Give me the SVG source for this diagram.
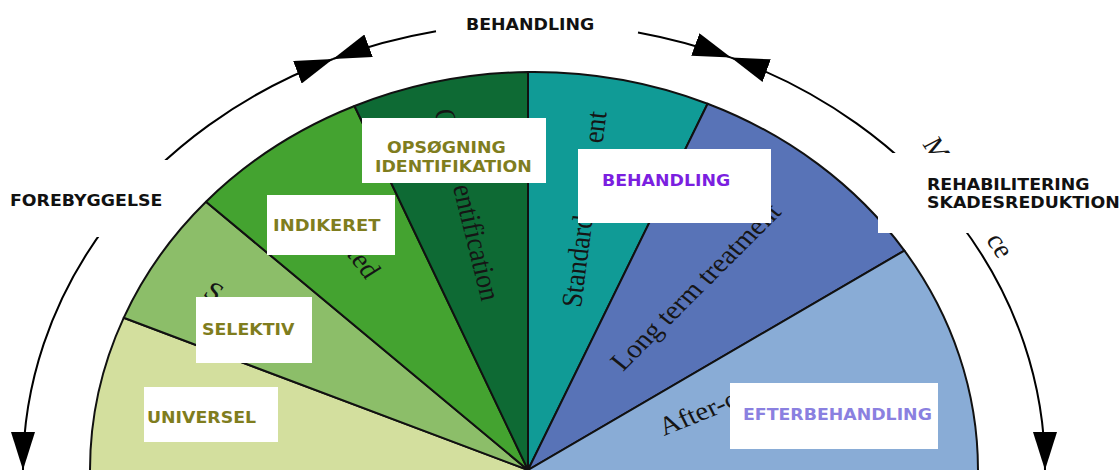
<svg xmlns="http://www.w3.org/2000/svg" width="1120" height="470" viewBox="0 0 1120 470">
<defs>
<style>
.w{stroke:#111;stroke-width:2;stroke-linejoin:round}
.ser{font-family:"Liberation Serif","Times New Roman",serif;font-size:26px;fill:#151515}
.lab{font-family:"DejaVu Sans",Verdana,sans-serif;font-weight:bold;font-size:15.5px}
.ol{fill:#7f7d1e}
.blk{fill:#111}
.box{fill:#fff}
.arc{fill:none;stroke:#000;stroke-width:2}
</style>
<marker id="ahEnd" markerUnits="userSpaceOnUse" markerWidth="38" markerHeight="24" viewBox="0 0 38 24" refX="38" refY="12" orient="auto">
<path d="M0,0 L38,12 L0,24 Z" fill="#000"/>
</marker>
<marker id="ahStart" markerUnits="userSpaceOnUse" markerWidth="38" markerHeight="24" viewBox="0 0 38 24" refX="0" refY="12" orient="auto">
<path d="M38,0 L0,12 L38,24 Z" fill="#000"/>
</marker>
</defs>
<rect width="1120" height="470" fill="#fff"/>

<g id="wedge-universal">
<path class="w" fill="#d3df9e" d="M532,482 L86,482 L90,470 A444,398 0 0 1 123.7,317.8 L528,470 Z"/>
</g>
<g id="wedge-selective">
<path class="w" fill="#8cbe69" d="M528,470 L123.7,317.8 A444,398 0 0 1 206,201.7 Z"/>
<text class="ser" transform="translate(202,295) scale(1.12,1) rotate(32.9)">S</text>
</g>
<g id="wedge-indicated">
<path class="w" fill="#44a330" d="M528,470 L206,201.7 A444,398 0 0 1 354.5,106 Z"/>
<text class="ser" transform="translate(304,200.7) scale(1.12,1) rotate(55.1)" x="65">ted</text>
</g>
<g id="wedge-case-identification">
<path class="w" fill="#0e6a34" d="M528,470 L354.5,106 A444,398 0 0 1 528,72 Z"/>
<text class="ser" transform="translate(434,111) scale(1.12,1) rotate(77.45)"><tspan>C</tspan><tspan dx="59.9">entification</tspan></text>
</g>
<g id="wedge-standard-treatment">
<path class="w" fill="#109b96" d="M528,470 L528,72 A444,398 0 0 1 707.6,103.7 Z"/>
<text class="ser" transform="translate(581,308) scale(1.12,1) rotate(-83.3)"><tspan>Standard</tspan><tspan dx="72.9">ent</tspan></text>
</g>
<g id="wedge-long-term">
<path class="w" fill="#5873b7" d="M528,470 L707.6,103.7 A444,398 0 0 1 904.4,250.6 Z"/>
<text class="ser" transform="translate(623,372) scale(1.12,1) rotate(-48.2)">Long term treatment</text>
</g>
<g id="wedge-aftercare">
<path class="w" fill="#89acd6" d="M528,470 L904.4,250.6 A444,398 0 0 1 978,470 L982,482 L524,482 Z"/>
<text class="ser" transform="translate(664,436) scale(1.12,1) rotate(-24.3)">After-c</text>
</g>
<g id="maintenance-text">
<text class="ser" transform="translate(922,144) scale(1.12,1) rotate(59.4)"><tspan>M</tspan><tspan dx="88.1">ce</tspan></text>
</g>

<g id="connectors">
<path class="arc" d="M333,59 A511,447 0 0 0 23,470" marker-start="url(#ahStart)" marker-end="url(#ahEnd)"/>
<path class="arc" d="M436,31.3 A511,447 0 0 0 333,59" marker-end="url(#ahEnd)"/>
<path class="arc" d="M638,32.4 A511,447 0 0 1 731,57.6" marker-end="url(#ahEnd)"/>
<path class="arc" d="M731,57.6 A511,447 0 0 1 1045,470" marker-start="url(#ahStart)" marker-end="url(#ahEnd)"/>
</g>

<g id="label-behandling-top">
<text class="lab blk" transform="translate(466,30) scale(1.12,1)">BEHANDLING</text>
</g>
<g id="label-forebyggelse">
<rect class="box" x="0" y="160" width="170" height="77"/>
<text class="lab blk" transform="translate(10,206) scale(1.12,1)">FOREBYGGELSE</text>
</g>
<g id="label-rehabilitering">
<rect class="box" x="878" y="153" width="242" height="80"/>
<text class="lab blk" transform="translate(927,190) scale(1.12,1)">REHABILITERING</text>
<text class="lab blk" transform="translate(927,208) scale(1.12,1)">SKADESREDUKTION</text>
</g>
<g id="label-opsoegning">
<rect class="box" x="362" y="118" width="184" height="65"/>
<text class="lab ol" transform="translate(387,153) scale(1.12,1)">OPSØGNING</text>
<text class="lab ol" transform="translate(375,172) scale(1.12,1)">IDENTIFIKATION</text>
</g>
<g id="label-behandling">
<rect class="box" x="578" y="149" width="193" height="74"/>
<text class="lab" fill="#7b1fe0" transform="translate(602,186) scale(1.12,1)">BEHANDLING</text>
</g>
<g id="label-indikeret">
<rect class="box" x="267" y="195" width="128" height="60"/>
<text class="lab ol" style="font-size:16px" transform="translate(273,231) scale(1.12,1)">INDIKERET</text>
</g>
<g id="label-selektiv">
<rect class="box" x="196" y="297" width="116" height="66"/>
<text class="lab ol" transform="translate(202,335) scale(1.12,1)">SELEKTIV</text>
</g>
<g id="label-universel">
<rect class="box" x="144" y="387" width="134" height="55"/>
<text class="lab ol" transform="translate(147,423) scale(1.12,1)">UNIVERSEL</text>
</g>
<g id="label-efterbehandling">
<rect class="box" x="730" y="383" width="208" height="66"/>
<text class="lab" fill="#8a80e0" transform="translate(743,420) scale(1.12,1)">EFTERBEHANDLING</text>
</g>
</svg>
